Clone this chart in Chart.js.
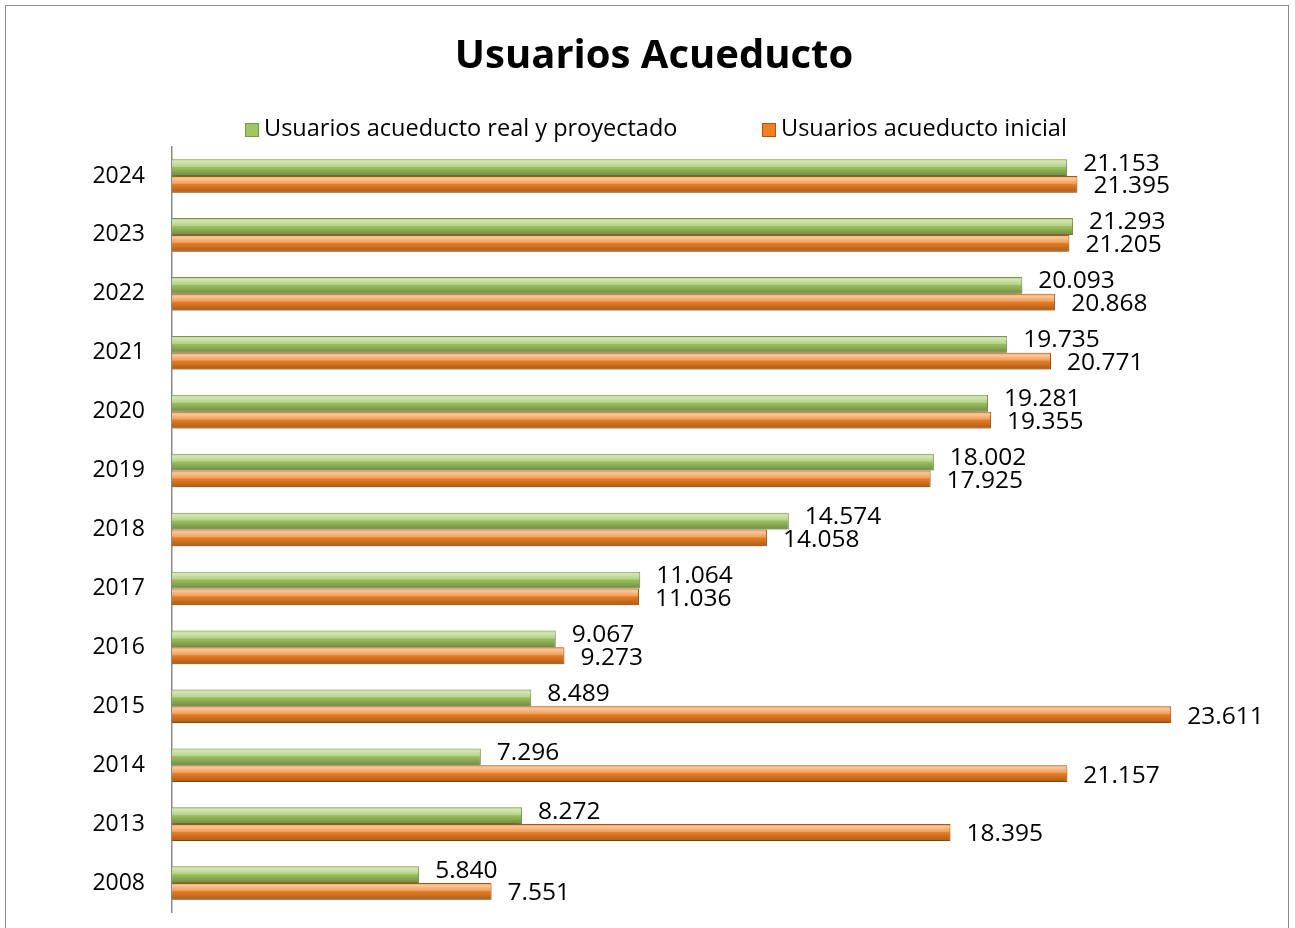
<!DOCTYPE html>
<html>
<head>
<meta charset="utf-8">
<script src="https://cdn.jsdelivr.net/npm/chart.js@4.4.1/dist/chart.umd.min.js"></script>
<style>
    html, body { margin: 0; padding: 0; background: #fff; overflow: hidden; }
    #frame { position: absolute; left: 5px; top: 5px; width: 1282px; height: 960px; border: 1.5px solid #8c8c8c; }
    #wrap { position: absolute; left: 0; top: 0; width: 1295px; height: 928px; }
    #legend { position: absolute; top: 112px; left: 0; width: 1295px; height: 30px; font-family: 'Open Sans', 'Noto Sans', sans-serif; font-size: 23.5px; color: #000; }
    #legend .item { position: absolute; top: 0; white-space: nowrap; line-height: 30px; }
    #legend .box { display: inline-block; width: 14px; height: 14px; margin-right: 5px; vertical-align: -1px; box-sizing: border-box; }
</style>
</head>
<body>
<div id="frame"></div>
<div id="wrap"><canvas id="chart"></canvas></div>
<div id="legend"></div>
<script>
    const years = ['2024', '2023', '2022', '2021', '2020', '2019', '2018', '2017', '2016', '2015', '2014', '2013', '2008'];
    const realProyectado = [21153, 21293, 20093, 19735, 19281, 18002, 14574, 11064, 9067, 8489, 7296, 8272, 5840];
    const inicial = [21395, 21205, 20868, 20771, 19355, 17925, 14058, 11036, 9273, 23611, 21157, 18395, 7551];
    const seriesNames = ['Usuarios acueducto real y proyectado', 'Usuarios acueducto inicial'];

    const FONT = "'Open Sans', 'Noto Sans', sans-serif";
    const legendLeft = [245, 762];

    function fmt(v) {
        return String(v).replace(/\B(?=(\d{3})+(?!\d))/g, '.');
    }

    // shadow under bars + glossy overlay + value labels
    const bevelPlugin = {
        id: 'bevel',
        beforeDatasetsDraw(chart) {
            const ctx = chart.ctx;
            ctx.save();
            ctx.shadowColor = 'rgba(0,0,0,0.28)';
            ctx.shadowBlur = 5;
            ctx.shadowOffsetY = 3;
        },
        afterDatasetsDraw(chart) {
            const ctx = chart.ctx;
            ctx.restore();
            chart.data.datasets.forEach((ds, di) => {
                chart.getDatasetMeta(di).data.forEach((bar, i) => {
                    const top = bar.y - bar.height / 2;
                    const g = ctx.createLinearGradient(0, top, 0, top + bar.height);
                    g.addColorStop(0, 'rgba(255,255,255,0.25)');
                    g.addColorStop(0.15, 'rgba(255,255,255,0.55)');
                    g.addColorStop(0.45, 'rgba(255,255,255,0.22)');
                    g.addColorStop(0.55, 'rgba(0,0,0,0.06)');
                    g.addColorStop(1, 'rgba(0,0,0,0.3)');
                    ctx.fillStyle = g;
                    ctx.fillRect(bar.base, top + 1, bar.x - bar.base - 1, bar.height - 2);

                    ctx.save();
                    ctx.fillStyle = '#000';
                    ctx.font = '24.5px ' + FONT;
                    ctx.textAlign = 'left';
                    ctx.textBaseline = 'middle';
                    const dy = di === 0 ? -4 : 2;
                    ctx.fillText(fmt(ds.data[i]), bar.x + 16, bar.y + dy);
                    ctx.restore();
                });
            });
        }
    };

    const ctx = document.getElementById('chart').getContext('2d');
    const chart = new Chart(ctx, {
        type: 'bar',
        data: {
            labels: years,
            datasets: [{
                label: seriesNames[0],
                data: realProyectado,
                backgroundColor: '#a0c660',
                borderColor: '#7a964c',
                borderWidth: 1,
                categoryPercentage: 0.57,
                barPercentage: 1.0
            }, {
                label: seriesNames[1],
                data: inicial,
                backgroundColor: '#f08224',
                borderColor: '#b0560c',
                borderWidth: 1,
                categoryPercentage: 0.57,
                barPercentage: 1.0
            }]
        },
        options: {
            indexAxis: 'y',
            responsive: true,
            maintainAspectRatio: false,
            animation: false,
            layout: { padding: { left: 78, right: 65, top: 0, bottom: 15.5 } },
            plugins: {
                title: {
                    display: true,
                    text: 'Usuarios Acueducto',
                    color: '#000',
                    font: { family: FONT, size: 40, weight: 'bold', lineHeight: 1.2 },
                    padding: { top: 33, bottom: 65.5 }
                },
                legend: { display: false },
                tooltip: { enabled: false }
            },
            scales: {
                x: {
                    display: false,
                    min: 0,
                    max: 25000
                },
                y: {
                    afterFit: scale => {
                        scale.width = 94;
                        scale.paddingTop = 0;
                        scale.paddingBottom = 0;
                    },
                    grid: { display: false, drawTicks: false },
                    border: { display: true, color: '#8a8a8a', width: 1.5 },
                    ticks: { color: '#000', font: { family: FONT, size: 23 }, padding: 27 }
                }
            }
        },
        plugins: [bevelPlugin]
    });

    // legend drawn as html so the item spacing follows the original
    const legendEl = document.getElementById('legend');
    chart.data.datasets.forEach((ds, i) => {
        const item = document.createElement('div');
        item.className = 'item';
        item.style.left = legendLeft[i] + 'px';
        const box = document.createElement('span');
        box.className = 'box';
        box.style.background = ds.backgroundColor;
        box.style.border = '1px solid ' + ds.borderColor;
        item.appendChild(box);
        item.appendChild(document.createTextNode(ds.label));
        legendEl.appendChild(item);
    });
</script>
</body>
</html>
